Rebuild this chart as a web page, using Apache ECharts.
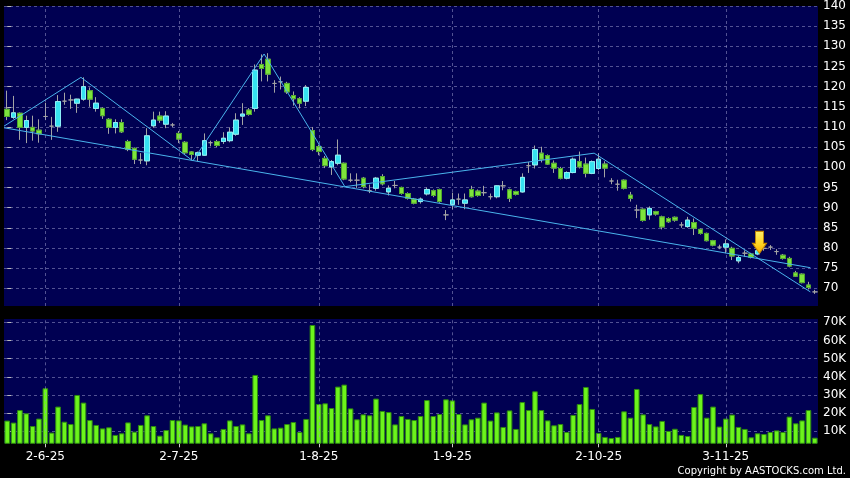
<!DOCTYPE html>
<html><head><meta charset="utf-8">
<script src="https://cdn.jsdelivr.net/npm/echarts@6/dist/echarts.min.js"></script>
<style>html,body{margin:0;padding:0;background:#000;}#c{width:850px;height:478px;}</style>
</head><body><div id="c"></div>
<script>
const opens = [114.4,112.4,113.4,109.9,109.9,109.2,112.6,110.2,110.2,116.4,116.7,115.9,116.9,119.0,114.6,114.6,111.9,109.9,111.1,106.4,
104.7,101.8,101.6,110.3,112.7,110.7,110.5,108.4,106.2,103.8,103.0,103.0,106.1,106.4,106.4,106.6,108.2,112.7,114.2,114.6,
125.5,126.8,120.8,121.2,120.8,117.8,117.0,116.4,109.1,105.1,102.2,100.1,101.0,101.0,96.8,96.8,97.3,94.2,94.8,97.7,
93.9,95.5,95.0,93.5,92.1,91.5,93.4,94.2,94.5,88.2,90.8,92.1,91.1,94.5,94.1,93.7,92.7,92.7,95.4,94.4,
94.0,93.9,100.4,100.6,103.5,102.9,101.0,99.7,97.3,98.7,101.4,100.8,98.5,99.7,100.8,96.6,95.8,96.8,93.1,89.4,
89.6,88.2,89.0,87.7,87.3,87.6,85.7,85.3,86.3,84.6,83.6,81.8,80.2,80.2,79.9,76.8,78.7,78.5,78.5,79.9,
80.2,79.1,78.2,77.4,73.8,73.5,70.8,69.1];
const closes = [112.6,113.5,109.9,111.6,109.0,108.3,112.6,110.2,116.3,116.4,116.7,116.9,120.0,116.9,115.9,112.8,109.9,111.1,108.8,104.4,
102.0,101.8,107.8,111.7,111.7,112.7,110.5,107.0,103.6,103.2,103.6,106.6,106.1,105.4,107.2,108.7,111.7,113.2,113.1,124.1,
124.5,123.1,120.8,121.2,118.7,117.0,115.9,119.8,104.4,103.9,100.4,101.4,103.0,97.1,96.8,96.8,95.2,94.2,97.3,95.9,
94.8,95.5,93.5,92.3,91.1,92.1,94.5,93.0,91.5,88.2,91.9,92.1,91.9,92.7,93.0,93.7,92.7,95.4,95.4,92.3,
93.3,97.5,100.4,104.4,102.0,100.8,99.8,97.3,98.7,102.0,100.1,98.5,101.4,102.0,99.8,96.6,95.8,94.8,92.3,89.4,
86.8,89.8,88.4,85.2,86.5,86.9,85.7,86.9,84.9,83.6,81.8,80.7,80.2,81.0,78.0,77.6,78.7,77.7,79.3,79.9,
80.2,79.1,77.4,75.5,73.0,71.4,70.2,69.1];
const lows = [111.7,112.0,106.8,106.0,106.6,106.1,111.7,106.8,108.8,115.5,114.5,113.5,116.5,115.0,113.8,112.0,108.3,108.4,108.5,104.0,
100.8,100.8,100.5,109.8,111.0,109.7,110.0,106.0,103.2,101.8,101.5,102.8,105.2,105.0,105.8,106.2,107.8,110.5,112.8,113.8,
121.3,121.3,118.5,119.3,118.2,115.3,114.6,115.2,104.0,103.0,99.8,98.1,100.5,96.8,96.3,94.9,94.8,93.6,94.2,95.5,
93.0,94.8,93.2,92.0,90.8,91.0,93.0,92.6,91.2,86.9,89.6,90.7,89.6,92.5,92.7,92.9,92.0,92.3,94.3,91.4,
93.0,93.7,98.6,99.7,101.2,100.6,98.6,97.0,97.0,98.5,99.7,97.5,98.3,99.3,97.5,95.8,94.2,94.5,91.5,87.4,
86.5,87.0,88.0,84.6,86.2,86.5,85.0,85.0,83.2,83.3,81.6,80.4,79.7,78.7,77.0,76.2,77.8,77.4,78.2,79.3,
79.5,78.3,77.1,75.2,72.8,71.2,69.7,68.6];
const highs = [119.0,117.7,113.6,112.8,112.8,111.9,116.0,112.5,117.9,118.5,118.0,117.0,122.3,119.8,117.4,114.9,112.2,111.9,111.9,106.8,
104.9,103.5,109.7,113.8,113.8,113.9,111.0,109.0,106.5,104.0,103.9,108.4,106.6,106.8,108.7,109.9,113.4,115.9,114.7,125.5,
128.0,128.3,121.6,122.5,121.2,118.8,117.4,120.4,110.0,105.6,102.8,101.8,106.9,101.2,98.5,98.5,97.6,95.7,97.6,98.3,
95.5,96.6,95.2,93.8,92.4,92.5,95.0,94.5,94.7,89.4,93.7,93.5,93.5,95.4,94.5,95.4,93.5,95.6,96.6,94.7,
94.2,98.5,101.3,105.4,105.1,103.2,101.7,100.1,99.0,102.4,103.9,102.4,101.7,103.5,101.5,97.3,96.9,97.0,93.9,90.7,
89.8,90.3,89.2,88.0,87.6,87.8,86.4,87.7,87.3,84.8,83.8,82.0,80.8,82.1,80.3,78.1,79.4,78.8,79.6,80.7,
80.7,79.7,78.5,77.8,74.3,73.7,71.6,69.6];
// volume in thousands
const volumes = [15.9,14.8,21.7,19.9,12.9,17.0,33.7,9.3,23.6,15.3,14.0,30.0,25.8,16.2,13.5,11.6,12.2,8.0,8.9,14.9,
9.8,13.5,18.8,12.9,7.6,10.7,16.2,16.0,13.7,12.7,12.9,14.4,8.9,6.7,11.3,16.0,12.9,13.8,8.9,41.0,
16.2,18.8,11.6,12.0,14.0,15.1,9.6,16.8,68.5,25.0,25.4,22.8,34.6,35.7,22.6,16.6,19.3,18.8,28.0,21.2,
20.6,13.8,18.4,16.8,16.2,18.4,27.2,18.4,19.5,27.6,27.0,19.5,13.8,16.6,17.5,25.8,15.9,20.4,12.4,21.5,
11.3,26.1,21.7,32.0,21.7,16.0,13.3,14.0,9.6,19.0,25.0,34.4,22.3,9.1,6.9,6.3,6.9,21.0,17.5,33.3,
19.3,14.0,12.7,15.7,10.2,11.4,8.0,7.4,23.4,30.5,17.5,23.6,12.6,17.0,19.2,12.4,11.3,6.7,8.9,8.5,
9.6,10.5,9.6,18.1,14.4,16.0,21.7,6.5];
const tickIndex = [6, 27, 49, 70, 93, 113];
const tickLabels = ['2-6-25', '2-7-25', '1-8-25', '1-9-25', '2-10-25', '3-11-25'];
// trend lines: [trading-day index, price]
const zigzagLine = [[-0.5,110.2],[11.6,122.3],[29.2,101.6],[40.4,128.1],[53.1,95.2],[92.3,103.5],[126.3,69.1]];
const supportLine = [[-0.5,109.8],[126.3,75.1]];
const arrowPoint = [118.3, 81.4];

const N = opens.length;
const days = opens.map((_, i) => i);
const labelMap = {};
tickIndex.forEach((t, k) => labelMap[t] = tickLabels[k]);
const isTick = (i) => labelMap[i] !== undefined;

const FONT = 'DejaVu Sans';
const GRID_LINE = {color: 'rgba(150,150,200,0.55)', type: [3, 3], width: 1};
const GREY = '#a4a4a4';

const fullCandles = opens.map((o, i) => [o, closes[i], lows[i], highs[i]]);
const bodies = opens.map((o, i) => {
  const c = closes[i];
  if (o === c) return '-';
  return [o, c, Math.min(o, c), Math.max(o, c)];
});

const chart = echarts.init(document.getElementById('c'), null, {renderer: 'canvas'});
chart.setOption({
  backgroundColor: '#000000',
  animation: false,
  textStyle: {fontFamily: FONT},
  grid: [
    {left: 4, right: 32, top: 6, height: 300, show: true, backgroundColor: '#000052', borderWidth: 0},
    {left: 4, right: 32, top: 319, height: 124.3, show: true, backgroundColor: '#000052', borderWidth: 0}
  ],
  xAxis: [
    {type: 'category', gridIndex: 0, data: days, boundaryGap: true,
     axisLine: {show: false}, axisTick: {show: false}, axisLabel: {show: false}, splitLine: {show: false}},
    {type: 'category', gridIndex: 1, data: days, boundaryGap: true,
     axisLine: {show: false},
     axisTick: {show: true, alignWithLabel: true, interval: (i) => isTick(i), length: 4, lineStyle: {color: '#cccccc'}},
     axisLabel: {show: true, interval: (i) => isTick(i), formatter: (v, i) => labelMap[i] || '',
       color: '#ffffff', fontSize: 12, fontFamily: FONT, margin: 8},
     splitLine: {show: false}},
    {type: 'value', gridIndex: 0, min: -0.5, max: N - 0.5, show: false},
    {type: 'value', gridIndex: 1, min: -0.5, max: N - 0.5, show: false}
  ],
  yAxis: [
    {type: 'value', gridIndex: 0, position: 'right', min: 65.6, max: 140, splitNumber: 15, offset: 2,
     axisLine: {show: false},
     axisTick: {show: true, length: 4, lineStyle: {color: '#bbbbbb'}},
     axisLabel: {color: '#ffffff', fontSize: 12, fontFamily: FONT, margin: 3, showMinLabel: false},
     splitLine: {show: true, lineStyle: GRID_LINE, showMinLine: false}},
    {type: 'value', gridIndex: 1, position: 'right', min: 3.4, max: 71.8, splitNumber: 7, offset: 2,
     axisLine: {show: false},
     axisTick: {show: true, length: 4, lineStyle: {color: '#bbbbbb'}},
     axisLabel: {color: '#ffffff', fontSize: 12, fontFamily: FONT, margin: 3, showMinLabel: false, showMaxLabel: false,
       formatter: (v) => v + 'K'},
     splitLine: {show: true, lineStyle: GRID_LINE, showMinLine: false, showMaxLine: false}}
  ],
  series: [
    {type: 'line', xAxisIndex: 2, yAxisIndex: 0, data: [], z: 1, silent: true,
     markLine: {silent: true, symbol: ['none', 'none'], label: {show: false}, lineStyle: GRID_LINE, animation: false,
       data: tickIndex.map(t => ({xAxis: t}))}},
    {type: 'line', xAxisIndex: 3, yAxisIndex: 1, data: [], z: 1, silent: true,
     markLine: {silent: true, symbol: ['none', 'none'], label: {show: false}, lineStyle: GRID_LINE, animation: false,
       data: tickIndex.map(t => ({xAxis: t}))}},
    {type: 'candlestick', xAxisIndex: 0, yAxisIndex: 0, data: fullCandles, barWidth: 5, z: 2,
     itemStyle: {color: GREY, color0: GREY, borderColor: GREY, borderColor0: GREY, borderColorDoji: GREY, borderWidth: 1}},
    {type: 'candlestick', xAxisIndex: 0, yAxisIndex: 0, data: bodies, barWidth: 5, z: 3,
     itemStyle: {color: '#36e2f0', color0: '#7ee43c', borderColor: '#8cf0f8', borderColor0: '#4fa82a', borderWidth: 1}},
    {type: 'line', xAxisIndex: 2, yAxisIndex: 0, data: zigzagLine, symbol: 'none', z: 4, silent: true,
     lineStyle: {color: '#4ab4ec', width: 1}},
    {type: 'line', xAxisIndex: 2, yAxisIndex: 0, data: supportLine, symbol: 'none', z: 4, silent: true,
     lineStyle: {color: '#4ab4ec', width: 1}},
    {type: 'scatter', xAxisIndex: 2, yAxisIndex: 0, data: [arrowPoint], z: 5, silent: true,
     symbol: 'path://M3,0 L11,0 L11,12 L14,12 L7,22 L0,12 L3,12 Z', symbolSize: [14, 22],
     itemStyle: {opacity: 1, color: {type: 'linear', x: 0, y: 0, x2: 0, y2: 1,
       colorStops: [{offset: 0, color: '#fff06a'}, {offset: 0.6, color: '#ffd21e'}, {offset: 1, color: '#f5a800'}]},
       borderColor: '#c88a00', borderWidth: 1}},
    {type: 'bar', xAxisIndex: 1, yAxisIndex: 1, data: volumes, barCategoryGap: '12%', z: 2,
     itemStyle: {color: '#6cf41c', borderColor: '#2e8a10', borderWidth: 1}}
  ],
  graphic: [
    {type: 'text', right: 4, top: 466, silent: true,
     style: {text: 'Copyright by AASTOCKS.com Ltd.', fill: '#ffffff', fontSize: 10, fontFamily: FONT}}
  ]
});
</script></body></html>
